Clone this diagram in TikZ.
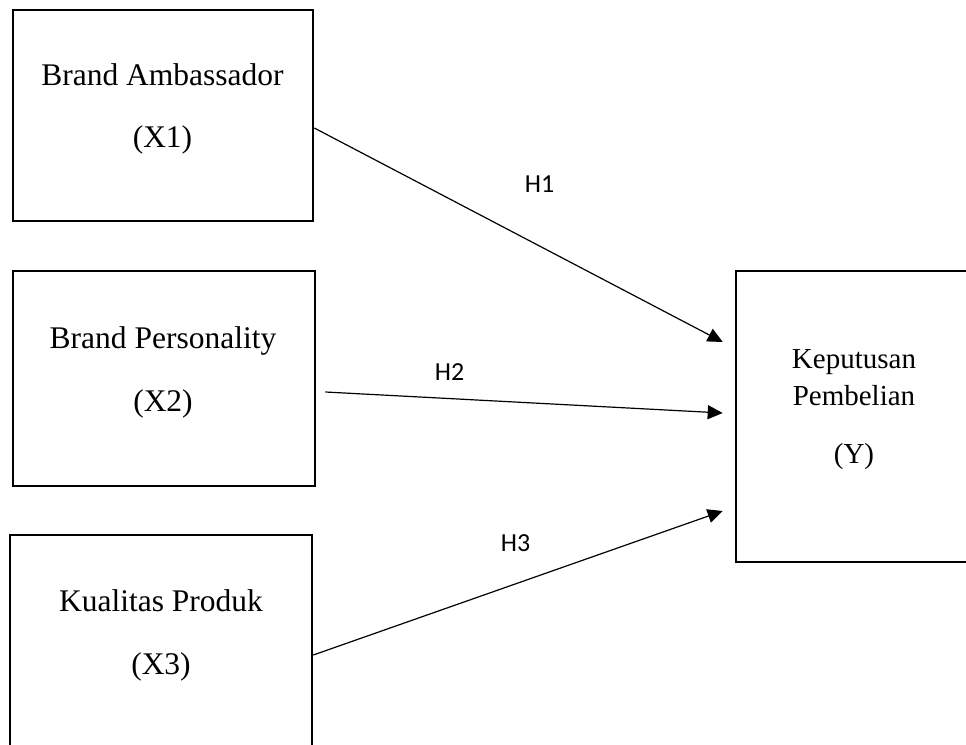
\documentclass[tikz,border=0pt]{standalone}
\usepackage{fontspec}
\setmainfont{Liberation Serif}
\newfontfamily\hfont{Carlito}
\usetikzlibrary{arrows.meta}
\tikzset{
  box/.style={draw=black, line width=2.6pt, fill=none, inner sep=0pt},
  xtext/.style={anchor=base, inner sep=0pt, font=\fontsize{31.5}{36}\selectfont},
  ytext/.style={anchor=base, inner sep=0pt, font=\fontsize{29}{33}\selectfont},
  hlabel/.style={anchor=base, inner sep=0pt, font=\hfont\fontsize{26}{30}\selectfont},
  arr/.style={draw=black, line width=1.2pt, -{Triangle[length=15pt,width=14pt]}}
}
\begin{document}
\begin{tikzpicture}[x=1pt,y=-1pt]
\useasboundingbox (0,0) rectangle (966,744);
\fill[white] (0,0) rectangle (966,744);
\clip (0,0) rectangle (966,744);
% boxes
\node[box, minimum width=300pt, minimum height=211pt] (x1) at (163,115.5) {};
\node[box, minimum width=302pt, minimum height=215pt] (x2) at (164,378.5) {};
\node[box, minimum width=302pt, minimum height=225pt] (x3) at (161,647.5) {};
\node[box, minimum width=239pt, minimum height=291pt] (y) at (855.5,416.5) {};
% box texts
\node[xtext] (x1a) at (162.5,85) {Brand Ambassador};
\node[xtext] (x1b) at (162.5,147) {(X1)};
\node[xtext] (x2a) at (163,348) {Brand Personality};
\node[xtext] (x2b) at (163,411) {(X2)};
\node[xtext] (x3a) at (161,611) {Kualitas Produk};
\node[xtext] (x3b) at (161,674) {(X3)};
\node[ytext] (ya) at (854,368) {Keputusan};
\node[ytext] (yb) at (854,405) {Pembelian};
\node[ytext] (yc) at (854,463) {(Y)};
% arrows
\draw[arr] ([yshift=-12.5pt]x1.east) -- ([xshift=-12pt,yshift=74.5pt]y.west);
\draw[arr] ([xshift=9pt,yshift=-13.5pt]x2.east) -- ([xshift=-12pt,yshift=3.5pt]y.west);
\draw[arr] ([yshift=-7.5pt]x3.east) -- ([xshift=-12pt,yshift=-94.5pt]y.west);
% labels
\node[hlabel] (h1) at (539.5,192) {H1};
\node[hlabel] (h2) at (449.5,380) {H2};
\node[hlabel] (h3) at (515.5,551) {H3};
\end{tikzpicture}
\end{document}
